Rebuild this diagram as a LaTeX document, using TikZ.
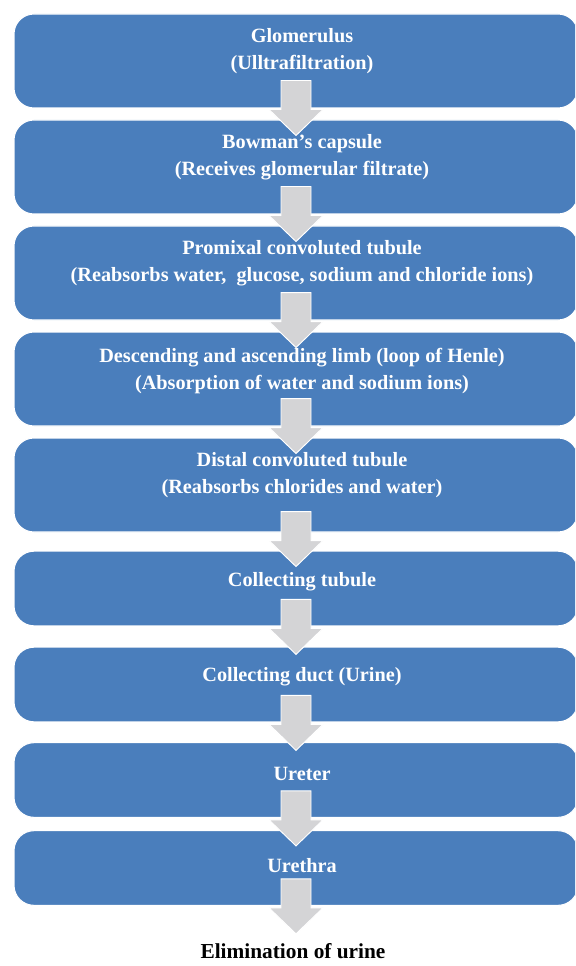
\documentclass[tikz,border=0pt]{standalone}
\usepackage{fontspec}
\setmainfont{Liberation Serif}
\usepackage{xcolor}
\usetikzlibrary{calc}

\begin{document}
\begin{tikzpicture}[x=0.75pt,y=-0.75pt]
  \definecolor{stageblue}{RGB}{74,126,188}
  \definecolor{flowgray}{RGB}{212,212,214}
  \tikzset{stage/.style={fill=stageblue,draw=white,line width=0.8pt,rounded corners=15pt,minimum width=423pt,inner sep=0pt},
    stagetext/.style={text=white,align=center,font=\fontsize{15.2}{19.9}\selectfont\bfseries,inner sep=0pt},
    flowarrow/.style={fill=flowgray,draw=white,line width=0.7pt}}
  \clip (0,0) rectangle (575,966);
  \fill[white] (0,0) rectangle (575,966);
  % boxes
  \node[stage,minimum height=70.5pt] (glom) at (296,61) {};
  \node[stage,minimum height=70.5pt] (bowman) at (296,167) {};
  \node[stage,minimum height=70.5pt] (pct) at (296,273) {};
  \node[stage,minimum height=70.5pt] (henle) at (296,379) {};
  \node[stage,minimum height=70.5pt] (dct) at (296,485) {};
  \node[stage,minimum height=56pt] (ctub) at (296,588.5) {};
  \node[stage,minimum height=56pt] (cduct) at (296,684.5) {};
  \node[stage,minimum height=56pt] (ureter) at (296,780) {};
  \node[stage,minimum height=56pt] (urethra) at (296,868) {};
  \node[font=\fontsize{16}{20}\selectfont\bfseries,inner sep=0pt] (elim) at (293,951) {Elimination of urine};
  % arrows
  \foreach \a/\b/\up in {glom/bowman/28,bowman/pct/28,pct/henle/28,henle/dct/28,dct/ctub/21,ctub/cduct/27,cduct/ureter/27,ureter/urethra/27,urethra/elim/27}
    \draw[flowarrow] ($(\a.south)+(-15,-\up)$) -- ++(30,0) -- ++(0,29) -- ++(12,0) -- ++(-27,26) -- ++(-27,-26) -- ++(12,0) -- cycle;
  % labels
  \node[stagetext] (glomtxt) at (302,51) {Glomerulus\\(Ulltrafiltration)};
  \node[stagetext] (bowmantxt) at (302,157) {Bowman’s capsule\\(Receives glomerular filtrate)};
  \node[stagetext] (pcttxt) at (302,263) {Promixal convoluted tubule\\(Reabsorbs water,~ glucose, sodium and chloride ions)};
  \node[stagetext] (henletxt) at (302,371) {Descending and ascending limb (loop of Henle)\\(Absorption of water and sodium ions)};
  \node[stagetext] (dcttxt) at (302,475) {Distal convoluted tubule\\(Reabsorbs chlorides and water)};
  \node[stagetext] (ctubtxt) at (302,582) {Collecting tubule};
  \node[stagetext] (cducttxt) at (302,677) {Collecting duct (Urine)};
  \node[stagetext] (uretertxt) at (302,774) {Ureter};
  \node[stagetext] (urethratxt) at (302,866) {Urethra};
\end{tikzpicture}
\end{document}
